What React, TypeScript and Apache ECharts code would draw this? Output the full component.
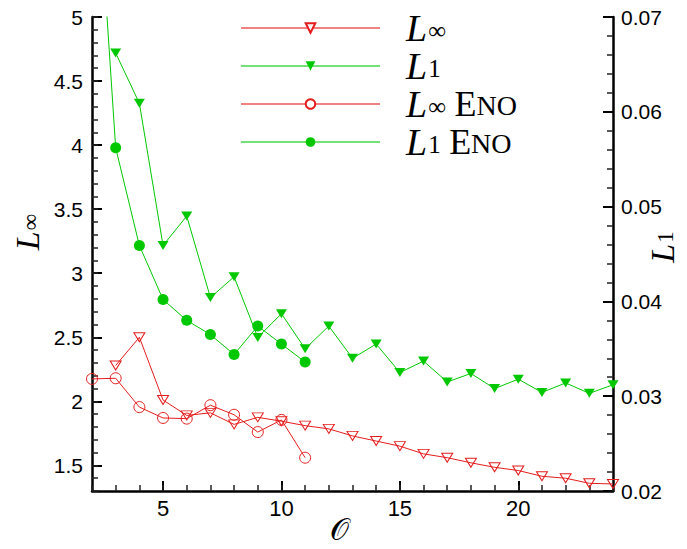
import React, { useEffect, useRef } from "react";
import * as echarts from "echarts";

const linfX = [3, 4, 5, 6, 7, 8, 9, 10, 11, 12, 13, 14, 15, 16, 17, 18, 19, 20, 21, 22, 23, 24];
const linf = [2.28, 2.5, 2.01, 1.89, 1.91, 1.82, 1.875, 1.845, 1.81, 1.785, 1.73, 1.69, 1.65, 1.59, 1.56, 1.52, 1.485, 1.46, 1.415, 1.4, 1.36, 1.355];
const l1 = [0.0662, 0.0609, 0.0459, 0.049, 0.0404, 0.0426, 0.0362, 0.0387, 0.035, 0.0374, 0.034, 0.0355, 0.0325, 0.0337, 0.0315, 0.0324, 0.0308, 0.0318, 0.0304, 0.0314, 0.0303, 0.0312];
const enoX = [2, 3, 4, 5, 6, 7, 8, 9, 10, 11];
const linfEno = [2.175, 2.18, 1.955, 1.87, 1.865, 1.97, 1.895, 1.76, 1.855, 1.56];
const l1Eno = [0.094, 0.0562, 0.0459, 0.0402, 0.038, 0.0365, 0.0344, 0.0374, 0.0355, 0.0336];

const xTicks = [5, 10, 15, 20];
const leftTicks = [1.5, 2, 2.5, 3, 3.5, 4, 4.5, 5];

const RED = "#e51c1c";
const GREEN = "#00c800";
const SERIF = "'Liberation Serif', 'DejaVu Serif', serif";
const SANS = "'Liberation Sans', Arial, sans-serif";

const legendText: Record<string, string> = {
  "L∞": "{L|L}{sub|∞}",
  "L1": "{L|L}{sub|1}",
  "L∞ ENO": "{L|L}{sub|∞}{gap| }{E|E}{sc|NO}",
  "L1 ENO": "{L|L}{sub|1}{gap| }{E|E}{sc|NO}",
};

const richBig = {
  L: { fontFamily: SERIF, fontStyle: "italic", fontSize: 38, lineHeight: 30, color: "#000" },
  sub: { fontFamily: SERIF, fontSize: 25, lineHeight: 14, verticalAlign: "bottom", padding: [0, 0, 0, 1], color: "#000" },
  gap: { fontFamily: SERIF, fontSize: 34, lineHeight: 30, color: "#000" },
  E: { fontFamily: SERIF, fontSize: 36, lineHeight: 30, color: "#000" },
  sc: { fontFamily: SERIF, fontSize: 28, lineHeight: 24, verticalAlign: "bottom", color: "#000" },
};

const richAxis = {
  L: { fontFamily: SERIF, fontStyle: "italic", fontSize: 34, lineHeight: 30, color: "#000" },
  sub: { fontFamily: SERIF, fontSize: 23, lineHeight: 14, verticalAlign: "bottom", padding: [0, 0, 0, 1], color: "#000" },
};

export default function App() {
  const ref = useRef<HTMLDivElement>(null);
  useEffect(() => {
    if (!ref.current) return;
    const chart = echarts.init(ref.current, null, { renderer: "svg" });
    const axisLineStyle = { color: "#000", width: 2.5 };
    const majorTick = { color: "#000", width: 2 };
    const minorTick = { color: "#222", width: 1.5 };
    chart.setOption({
      animation: false,
      backgroundColor: "#fff",
      grid: { left: 92, right: 74, top: 17, bottom: 58, containLabel: false },
      legend: {
        orient: "vertical",
        left: 240,
        top: 9,
        padding: 0,
        itemWidth: 139,
        itemHeight: 12,
        itemGap: 0,
        selectedMode: false,
        data: [
          { name: "L∞", itemStyle: { color: "#fff" } },
          { name: "L1" },
          { name: "L∞ ENO", itemStyle: { color: "#fff" } },
          { name: "L1 ENO" },
        ],
        lineStyle: { width: 2, opacity: 0.55 },
        formatter: (name: string) => legendText[name],
        textStyle: { fontSize: 30, fontFamily: SERIF, color: "#000", padding: [0, 0, 0, 21], rich: richBig },
      },
      xAxis: [
        {
          type: "value",
          min: 2,
          max: 24,
          position: "bottom",
          axisLine: { show: true, onZero: false, lineStyle: axisLineStyle },
          axisTick: { show: true, inside: true, length: 10, lineStyle: majorTick, customValues: xTicks },
          axisLabel: { customValues: xTicks, fontSize: 22, fontFamily: SANS, color: "#000", margin: 6 },
          splitLine: { show: false },
        },
        {
          type: "value",
          min: 2,
          max: 24,
          interval: 1,
          position: "bottom",
          axisLine: { show: false },
          axisTick: { show: true, inside: true, length: 6, lineStyle: minorTick },
          axisLabel: { show: false },
          splitLine: { show: false },
        },
      ],
      yAxis: [
        {
          type: "value",
          min: 1.3,
          max: 5,
          position: "left",
          axisLine: { show: true, onZero: false, lineStyle: axisLineStyle },
          axisTick: { show: true, inside: true, length: 10, lineStyle: majorTick, customValues: leftTicks },
          axisLabel: { customValues: leftTicks, fontSize: 21, fontFamily: SANS, color: "#000", margin: 9 },
          splitLine: { show: false },
        },
        {
          type: "value",
          min: 0.02,
          max: 0.07,
          interval: 0.01,
          position: "right",
          axisLine: { show: true, onZero: false, lineStyle: axisLineStyle },
          axisTick: { show: true, inside: true, length: 10, lineStyle: majorTick },
          minorTick: { show: true, splitNumber: 5, length: 6, lineStyle: minorTick },
          axisLabel: { fontSize: 21, fontFamily: SANS, color: "#000", margin: 8 },
          splitLine: { show: false },
          minorSplitLine: { show: false },
        },
        {
          type: "value",
          min: 1.3,
          max: 5,
          interval: 0.1,
          position: "left",
          axisLine: { show: false },
          axisTick: { show: true, inside: true, length: 6, lineStyle: minorTick },
          axisLabel: { show: false },
          splitLine: { show: false },
        },
      ],
      series: [
        {
          name: "L∞",
          type: "line",
          xAxisIndex: 0,
          yAxisIndex: 0,
          data: linfX.map((x, i) => [x, linf[i]]),
          symbol: "triangle",
          symbolRotate: 180,
          symbolSize: [11, 9],
          lineStyle: { color: RED, width: 1 },
          itemStyle: { color: "rgba(255,255,255,0)", borderColor: RED, borderWidth: 1 },
          clip: true,
        },
        {
          name: "L1",
          type: "line",
          xAxisIndex: 0,
          yAxisIndex: 1,
          data: linfX.map((x, i) => [x, l1[i]]),
          symbol: "triangle",
          symbolRotate: 180,
          symbolSize: [11, 9],
          lineStyle: { color: GREEN, width: 1 },
          itemStyle: { color: GREEN, borderWidth: 0 },
          clip: true,
        },
        {
          name: "L∞ ENO",
          type: "line",
          xAxisIndex: 0,
          yAxisIndex: 0,
          data: enoX.map((x, i) => [x, linfEno[i]]),
          symbol: "circle",
          symbolSize: 11,
          lineStyle: { color: RED, width: 1 },
          itemStyle: { color: "rgba(255,255,255,0)", borderColor: RED, borderWidth: 1 },
          clip: true,
        },
        {
          name: "L1 ENO",
          type: "line",
          xAxisIndex: 0,
          yAxisIndex: 1,
          data: enoX.map((x, i) => [x, l1Eno[i]]),
          symbol: "circle",
          symbolSize: 11,
          lineStyle: { color: GREEN, width: 1 },
          itemStyle: { color: GREEN, borderWidth: 0 },
          clip: true,
        },
      ],
      graphic: [
        {
          type: "text",
          x: 27,
          y: 232,
          rotation: Math.PI / 2,
          style: { text: "{L|L}{sub|∞}", rich: richAxis, align: "center", verticalAlign: "middle" },
        },
        {
          type: "text",
          x: 662,
          y: 247,
          rotation: Math.PI / 2,
          style: { text: "{L|L}{sub|1}", rich: richAxis, align: "center", verticalAlign: "middle" },
        },
        {
          type: "text",
          x: 339,
          y: 529,
          style: { text: "𝒪", font: "30px " + SERIF, fill: "#000", align: "center", verticalAlign: "middle" },
        },
      ],
    });
    return () => chart.dispose();
  }, []);
  return <div ref={ref} style={{ position: "absolute", left: 0, top: 0, width: 687, height: 549 }} />;
}
